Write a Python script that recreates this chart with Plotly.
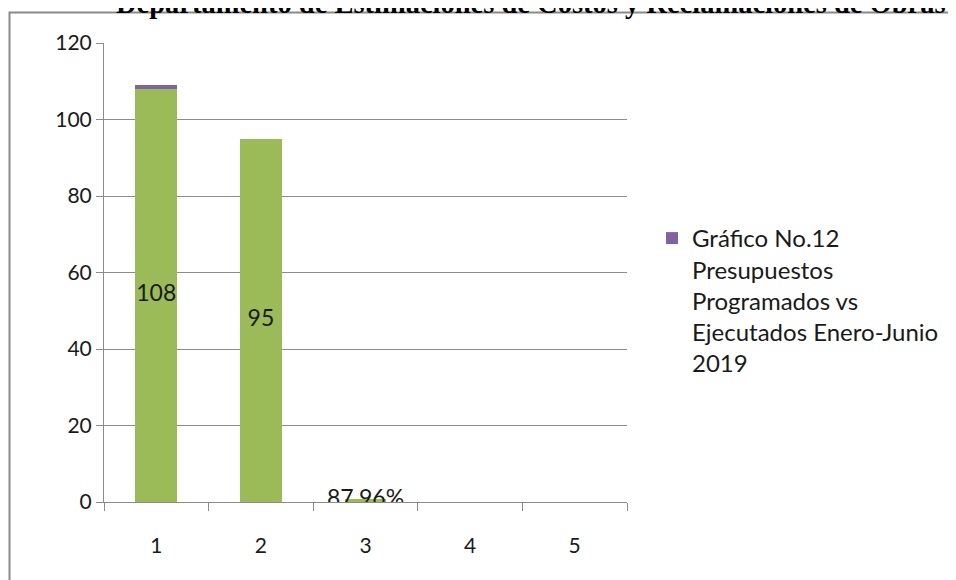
import plotly.graph_objects as go

categories = ["1", "2", "3", "4", "5"]
ejecutados = [108, 95, 0.88, None, None]
programados_extra = [1, None, None, None, None]
labels = ["108", "95", "87.96%", "", ""]
y_ticks = [0, 20, 40, 60, 80, 100, 120]

GREEN = "#9BBB59"
PURPLE = "#8064A2"
GRID = "#8c8c8c"
FONT = "Lato, 'Open Sans', sans-serif"
TXT = "#1a1a1a"

W, H = 956, 580
OFF = 8  # page body margin
L, R, T, B = 104, 627, 43, 502  # target plot area in screen pixels
pw, ph = R - L, B - T


def px(x):
    return (x - L) / pw


def py(y):
    return (B - y) / ph


fig = go.Figure()
fig.add_trace(go.Bar(x=categories, y=ejecutados, marker=dict(color=GREEN, line=dict(width=0)),
                     showlegend=False, hoverinfo="skip"))
fig.add_trace(go.Bar(x=categories, y=programados_extra, marker=dict(color=PURPLE, line=dict(width=0)),
                     name="Gráfico No.12<br>Presupuestos<br>Programados vs<br>Ejecutados Enero-Junio<br>2019",
                     showlegend=True))
label_y = [(v or 0) / 2 for v in ejecutados]
fig.add_trace(go.Scatter(x=categories, y=label_y, text=labels, mode="text",
                         textfont=dict(size=23, color=TXT, family=FONT),
                         showlegend=False, hoverinfo="skip"))

fig.add_shape(type="rect", xref="paper", yref="paper",
              x0=px(9.5), x1=px(1100), y0=py(800), y1=py(12.5),
              line=dict(color="#8a8a8a", width=2), fillcolor="rgba(0,0,0,0)", layer="below")

fig.add_annotation(text="<b>Departamento de Estimaciones de Costos y Reclamaciones de Obras</b>",
                   xref="paper", yref="paper", x=px(531), y=py(21),
                   xanchor="center", yanchor="bottom", showarrow=False,
                   font=dict(family="'Liberation Serif', 'Times New Roman', serif", size=28.5, color="#000"))

fig.update_layout(
    width=W, height=H,
    margin=dict(l=L - OFF, r=W - (R - OFF), t=T - OFF, b=H - (B - OFF), pad=0),
    paper_bgcolor="white", plot_bgcolor="white",
    barmode="stack", bargap=0.6,
    font=dict(family=FONT, size=21, color=TXT),
    legend=dict(x=px(652), y=py(216), xanchor="left", yanchor="top", valign="top",
                font=dict(size=24, family=FONT, color=TXT),
                itemwidth=30, tracegroupgap=0, bgcolor="rgba(0,0,0,0)"),
    xaxis=dict(type="category", range=[-0.5, 4.5], showline=True, linecolor=GRID, linewidth=1,
               ticks="outside", ticklen=8, tickcolor=GRID, tickson="boundaries",
               ticklabelstandoff=25, showgrid=False, zeroline=False,
               tickfont=dict(size=21, family=FONT, color=TXT)),
    yaxis=dict(range=[0, 120], tickvals=y_ticks, showline=True, linecolor=GRID, linewidth=1,
               ticks="outside", ticklen=7, tickcolor=GRID, ticklabelstandoff=0,
               showgrid=True, gridcolor=GRID, gridwidth=1, zeroline=False,
               tickfont=dict(size=21, family=FONT, color=TXT)),
)

fig.write_html("out.html")
